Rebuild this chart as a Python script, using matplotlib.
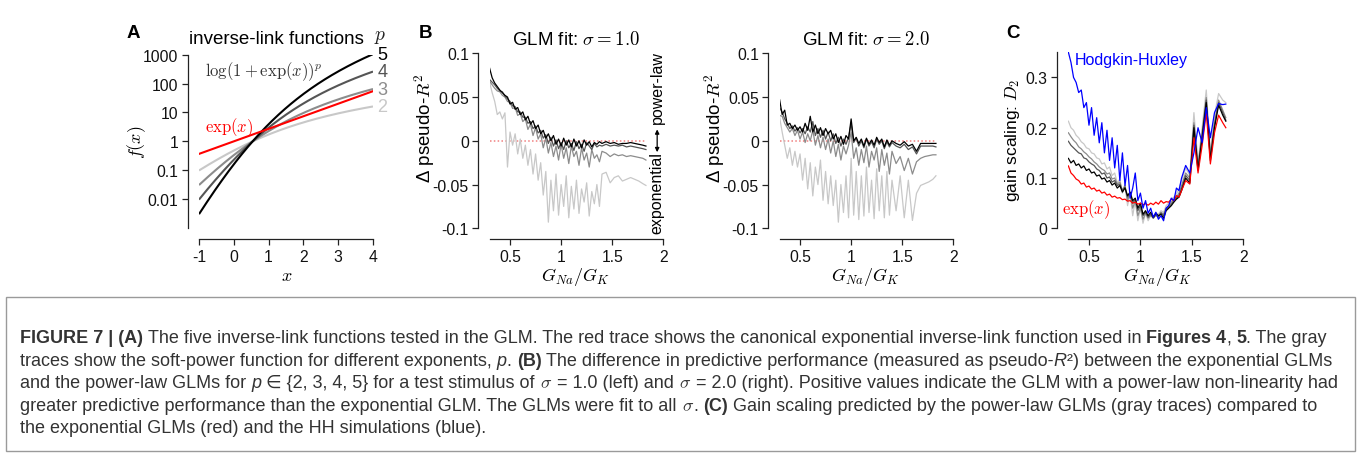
import numpy as np
import matplotlib
matplotlib.use("Agg")
import matplotlib.pyplot as plt
import matplotlib.patches as patches
from matplotlib import font_manager
from matplotlib.ticker import FixedLocator, NullLocator

W, H = 1360, 456

plt.rcParams['font.family'] = ['Liberation Sans', 'DejaVu Sans']
plt.rcParams['mathtext.fontset'] = 'cm'
plt.rcParams['axes.unicode_minus'] = False

# ---- panel A: inverse-link functions (as written on the panel) ----
link_x = np.linspace(-1, 4, 200)
powers = [2, 3, 4, 5]
power_colors = ['#c8c8c8', '#8c8c8c', '#555555', '#000000']
a_xticks = [-1, 0, 1, 2, 3, 4]
a_yticks = [0.01, 0.1, 1, 10, 100, 1000]
a_yticklabels = ['0.01', '0.1', '1', '10', '100', '1000']

gna = [0.300, 0.325, 0.350, 0.375, 0.400, 0.425, 0.450, 0.475, 0.500, 0.525,
       0.550, 0.575, 0.600, 0.625, 0.650, 0.675, 0.700, 0.725, 0.750, 0.775,
       0.800, 0.825, 0.850, 0.875, 0.900, 0.925, 0.950, 0.975, 1.000, 1.025,
       1.050, 1.075, 1.100, 1.125, 1.150, 1.175, 1.200, 1.225, 1.250, 1.275,
       1.300, 1.325, 1.350, 1.375, 1.400, 1.44, 1.48, 1.52, 1.56, 1.60,
       1.64, 1.68, 1.72, 1.76, 1.80, 1.83]

# B, sigma = 1.0
b1_p2 = [67, 55, 45, 30, 33, 25, 32, -30, 10, -5,
         8, -15, 2, -20, -5, -28, -10, -38, -15, -45,
         -25, -62, -35, -93, -45, -80, -38, -85, -50, -75,
         -40, -88, -52, -78, -45, -83, -55, -70, -48, -86,
         -58, -72, -50, -75, -38,
         -36, -48, -42, -40, -46, -44, -42, -44, -46, -49, -51]
b1_p3 = [68, 64, 60, 57, 56, 52, 50, 45, 44, 37,
         38, 29, 31, 22, 25, 13, 19, 6, 15, 2,
         8, -8, 3, -14, -2, -18, -6, -22, -4, -20,
         -8, -26, -6, -18, -12, -28, -8, -22, -14, -30,
         -10, -20, -16, -24, -12,
         -14, -18, -15, -17, -16, -18, -17, -18, -19, -20, -22]
b1_p4 = [70, 67, 64, 60, 57, 56, 51, 48, 45, 40,
         39, 33, 33, 27, 27, 20, 22, 14, 17, 9,
         12, 3, 7, -3, 4, -6, 1, -9, -2, -10,
         0, -8, -3, -11, -1, -9, -4, -12, -2, -6,
         -10, -3, -7, -5, -6,
         -4, -6, -5, -6, -5, -7, -6, -7, -8, -9, -10]
b1_p5 = [83, 72, 66, 62, 58, 55, 52, 50, 42, 44,
         36, 38, 30, 33, 24, 28, 19, 23, 14, 18,
         8, 12, 3, 8, 0, 6, -4, 2, -6, 3,
         -5, 1, -7, 2, -6, 0, -8, 1, -5, -1,
         -7, -2, -4, -1, -3,
         -1, -3, -2, -4, -3, -3, -2, -3, -4, -5, -6]

# B, sigma = 2.0
b2_p2 = [27, 10, -5, -20, -8, -28, -12, -30, -15, -45,
         -20, -55, -25, -63, -30, -50, -22, -68, -35, -72,
         -40, -74, -45, -93, -50, -82, -40, -88, -20, -85,
         -35, -90, -40, -86, -30, -82, -45, -89, -32, -80,
         -40, -88, -35, -85, -45,
         -80, -40, -88, -45, -91, -60, -51, -49, -47, -44, -40]
b2_p3 = [29, 28, 20, 15, 10, 14, 6, 12, 2, 10,
         -2, 8, 0, 12, -5, 6, -8, 4, -10, 2,
         -14, 0, -18, -4, -22, -6, -15, -5, 10, -20,
         -8, -28, -10, -25, -6, -30, -12, -22, -8, -35,
         -10, -28, -14, -38, -12,
         -26, -18, -34, -20, -38, -24, -20, -18, -17, -16, -16]
b2_p4 = [38, 33, 25, 20, 14, 17, 11, 15, 9, 14,
         8, 16, 10, 22, 6, 14, 4, 12, 2, 10,
         0, 8, -3, 4, -6, 2, -4, 4, 20, -2,
         3, -6, 0, -8, 2, -6, -1, -8, 2, -4,
         0, -9, -1, -7, -2,
         -6, -8, -4, -10, -7, -15, -6, -6, -6, -6, -7]
b2_p5 = [47, 30, 35, 18, 20, 14, 18, 12, 16, 10,
         20, 12, 28, 10, 18, 8, 15, 6, 14, 8,
         12, 2, 8, -2, 5, -4, 6, 2, 25, 0,
         4, -3, 2, -6, 3, -4, 1, -5, 4, -2,
         2, -7, 1, -5, 0,
         -3, -5, -1, -6, -4, -12, -3, -3, -3, -3, -3]

# C, gain scaling D2
c_p2 = [213, 200, 195, 185, 180, 172, 168, 160, 158, 150,
        148, 140, 138, 128, 130, 118, 122, 105, 110, 90,
        98, 70, 88, 45, 70, 25, 55, 15, 40, 10,
        30, 15, 25, 20, 30, 28, 35, 32, 45, 50,
        58, 62, 68, 78, 95,
        120, 105, 230, 130, 200, 275, 150, 225, 268, 255, 250]
c_p3 = [190, 182, 175, 170, 162, 158, 152, 148, 142, 138,
        132, 128, 122, 118, 115, 108, 110, 98, 100, 88,
        92, 75, 85, 55, 70, 40, 55, 25, 40, 18,
        30, 20, 25, 22, 28, 25, 32, 28, 40, 45,
        52, 58, 62, 70, 85,
        110, 100, 210, 125, 190, 260, 145, 210, 255, 235, 220]
c_p4 = [173, 165, 160, 155, 150, 148, 140, 138, 132, 128,
        125, 118, 115, 108, 110, 100, 102, 92, 95, 85,
        88, 75, 82, 62, 70, 50, 58, 35, 45, 25,
        32, 22, 28, 20, 26, 22, 30, 25, 38, 42,
        48, 55, 60, 65, 80,
        105, 95, 205, 120, 185, 255, 140, 205, 250, 230, 215]
c_p5 = [139, 130, 135, 125, 128, 120, 124, 115, 118, 110,
        112, 104, 106, 98, 100, 92, 95, 86, 90, 80,
        85, 72, 80, 65, 72, 55, 60, 40, 50, 28,
        35, 25, 32, 22, 30, 25, 28, 20, 35, 40,
        45, 52, 58, 62, 75,
        100, 90, 200, 115, 180, 250, 135, 200, 245, 225, 213]
c_exp = [124, 110, 105, 98, 95, 88, 90, 82, 84, 78,
         80, 74, 76, 70, 72, 66, 68, 62, 64, 60,
         61, 57, 58, 54, 55, 50, 52, 48, 50, 47,
         49, 46, 50, 47, 52, 48, 55, 50, 53, 52,
         58, 55, 65, 62, 75,
         95, 88, 180, 110, 165, 230, 128, 190, 225, 210, 200]
c_hh = [350, 330, 300, 290, 270, 275, 240, 250, 205, 240,
        185, 220, 170, 210, 150, 195, 135, 180, 120, 165,
        95, 150, 85, 125, 60, 80, 110, 55, 70, 40,
        55, 30, 40, 22, 32, 18, 25, 15, 40, 45,
        60, 55, 80, 75, 100,
        125, 110, 150, 200, 170, 240, 180, 230, 248, 246, 247]

b_yticks = [-0.1, -0.05, 0, 0.05, 0.1]
b_yticklabels = ['-0.1', '-0.05', '0', '0.05', '0.1']
g_xticks = [0.5, 1, 1.5, 2]
g_xticklabels = ['0.5', '1', '1.5', '2']
c_yticks = [0, 0.1, 0.2, 0.3]
c_yticklabels = ['0', '0.1', '0.2', '0.3']

INK = '#222222'


def box(left, top, right, bottom):
    return [left / W, 1 - bottom / H, (right - left) / W, (bottom - top) / H]


def style(ax):
    for s in ['top', 'right']:
        ax.spines[s].set_visible(False)
    for s in ['left', 'bottom']:
        ax.spines[s].set_position(('outward', 8))
        ax.spines[s].set_color(INK)
        ax.spines[s].set_linewidth(0.9)
    ax.tick_params(direction='out', length=4, width=0.9, color=INK,
                   labelsize=11.3, labelcolor='#111111', pad=3)
    ax.patch.set_visible(False)


def ftext(px, py, s, **kw):
    return fig.text(px / W, 1 - py / H, s, **kw)


fig = plt.figure(figsize=(W / 100, H / 100), dpi=100)

# ---------------- panel A ----------------
axA = fig.add_axes(box(199, 55.7, 373, 229))
style(axA)
for p, col in zip(powers, power_colors):
    fx = np.log1p(np.exp(link_x)) ** p
    axA.plot(link_x, fx, color=col, lw=1.5, solid_capstyle='butt')
    axA.annotate(str(p), xy=(link_x[-1], fx[-1]), xytext=(3, 0),
                 textcoords='offset points', va='center', ha='left',
                 fontsize=13, color=col, annotation_clip=False)
axA.plot(link_x, np.exp(link_x), color='#ff0000', lw=1.5)
axA.set_yscale('log')
axA.set_xlim(-1, 4)
axA.set_ylim(1e-3, 1e3)
axA.xaxis.set_major_locator(FixedLocator(a_xticks))
axA.set_xticklabels([str(t) for t in a_xticks])
axA.yaxis.set_major_locator(FixedLocator(a_yticks))
axA.yaxis.set_minor_locator(NullLocator())
axA.set_yticklabels(a_yticklabels)

ftext(133, 33, 'A', fontsize=13.5, fontweight='bold', ha='center', va='center')
ftext(276, 39, 'inverse-link functions', fontsize=13.5, ha='center', va='center')
ftext(380, 37, '$p$', fontsize=14, ha='center', va='center', color=INK)
ftext(205, 72, r'$\log(1+\exp(x))^p$', fontsize=12, ha='left', va='center', color='#333333')
ftext(205, 128, r'$\exp(x)$', fontsize=12, ha='left', va='center', color='#ff0000')
ftext(137, 142, r'$f(x)$', fontsize=13, rotation=90, ha='center', va='center')
ftext(287, 277, r'$x$', fontsize=13, ha='center', va='center')

# ---------------- panel B ----------------
b_sets = [([b1_p2, b1_p3, b1_p4, b1_p5], 489.6, r'GLM fit: $\sigma = 1.0$'),
          ([b2_p2, b2_p3, b2_p4, b2_p5], 779.6, r'GLM fit: $\sigma = 2.0$')]
b_axes = []
for series, left, title in b_sets:
    ax = fig.add_axes(box(left, 54.3, left + 173.7, 229.3))
    style(ax)
    ax.hlines(0, gna[0], gna[-1], colors='#f08080', linestyles=(0, (1, 1.5)), lw=1.1)
    for vals, col in zip(series, power_colors):
        ax.plot(gna, np.array(vals) / 1000, color=col, lw=0.9)
    ax.set_xlim(0.3, 2)
    ax.set_ylim(-0.1, 0.1)
    ax.xaxis.set_major_locator(FixedLocator(g_xticks))
    ax.set_xticklabels(g_xticklabels)
    ax.yaxis.set_major_locator(FixedLocator(b_yticks))
    ax.set_yticklabels(b_yticklabels)
    cx = left + 86
    ftext(cx, 40, title, fontsize=13.5, ha='center', va='center')
    ftext(cx, 277, r'$G_{Na}/G_K$', fontsize=13, ha='center', va='center')
    ftext(left - 65, 128, u'\u0394 pseudo-$R^2$', fontsize=13.5, rotation=90,
          ha='center', va='center')
    b_axes.append(ax)

ftext(425, 33, 'B', fontsize=13.5, fontweight='bold', ha='center', va='center')
axB = b_axes[0]
axB.text(1.94, 0.062, 'power-law', rotation=90, fontsize=11.5, ha='center', va='center', clip_on=False)
axB.text(1.94, -0.059, 'exponential', rotation=90, fontsize=11.5, ha='center', va='center', clip_on=False)
axB.annotate('', xy=(1.94, -0.013), xytext=(1.94, 0.013),
             arrowprops=dict(arrowstyle='<|-|>', color='k', lw=0.9, mutation_scale=6,
                             shrinkA=0, shrinkB=0), annotation_clip=False)

# ---------------- panel C ----------------
axC = fig.add_axes(box(1068.4, 53.3, 1243.3, 229.3))
style(axC)
for vals, col in zip([c_p2, c_p3, c_p4, c_p5], power_colors):
    axC.plot(gna, np.array(vals) / 1000, color=col, lw=0.9)
axC.plot(gna, np.array(c_exp) / 1000, color='#ff0000', lw=0.9)
axC.plot(gna, np.array(c_hh) / 1000, color='#0000ff', lw=0.9)
axC.set_xlim(0.3, 2)
axC.set_ylim(0, 0.35)
axC.xaxis.set_major_locator(FixedLocator(g_xticks))
axC.set_xticklabels(g_xticklabels)
axC.yaxis.set_major_locator(FixedLocator(c_yticks))
axC.set_yticklabels(c_yticklabels)

ftext(1013, 33, 'C', fontsize=13.5, fontweight='bold', ha='center', va='center')
ftext(1075, 60, 'Hodgkin-Huxley', fontsize=11.5, color='#0000ff', ha='left', va='center')
ftext(1062, 210, r'$\exp(x)$', fontsize=12, color='#ff0000', ha='left', va='center')
ftext(1013, 140, 'gain scaling: $D_2$', fontsize=12.5, rotation=90, ha='center', va='center')
ftext(1157, 277, r'$G_{Na}/G_K$', fontsize=13, ha='center', va='center')

# ---------------- caption ----------------
names = {f.name for f in font_manager.fontManager.ttflist}
cap_font = 'Liberation Sans Narrow' if 'Liberation Sans Narrow' in names else 'Liberation Sans'
cap_family = [cap_font, 'DejaVu Sans']
cap_color = '#333333'

fig.add_artist(patches.Rectangle((6 / W, 1 - 452 / H), (1355 - 6) / W, (452 - 298) / H,
                                 transform=fig.transFigure, fill=False,
                                 edgecolor='#9a9a9a', lw=1.0))

cap_lines = [
    [('FIGURE 7 | (A)', 'B'),
     (' The five inverse-link functions tested in the GLM. The red trace shows the canonical '
      'exponential inverse-link function used in ', 'N'),
     ('Figures 4', 'B'), (', ', 'N'), ('5', 'B'), ('. The gray', 'N')],
    [('traces show the soft-power function for different exponents, ', 'N'), ('p', 'I'),
     ('. ', 'N'), ('(B)', 'B'),
     (' The difference in predictive performance (measured as pseudo-', 'N'), ('R', 'I'),
     ('\u00b2', 'N'), (') between the exponential GLMs', 'N')],
    [('and the power-law GLMs for ', 'N'), ('p', 'I'), (' \u2208 {2, 3, 4, 5} for a test stimulus of ', 'N'),
     (r'$\sigma$', 'N'), (' = 1.0 (left) and ', 'N'), (r'$\sigma$', 'N'),
     (' = 2.0 (right). Positive values indicate the GLM with a power-law non-linearity had', 'N')],
    [('greater predictive performance than the exponential GLM. The GLMs were fit to all ', 'N'),
     (r'$\sigma$', 'N'), ('. ', 'N'), ('(C)', 'B'),
     (' Gain scaling predicted by the power-law GLMs (gray traces) compared to', 'N')],
    [('the exponential GLMs (red) and the HH simulations (blue).', 'N')],
]
cap_baselines = [343.5, 366, 388.5, 411, 433.5]

renderer = fig.canvas.get_renderer()


def put_runs(runs, x0, base, size):
    prop = font_manager.FontProperties(family=cap_family, size=size)
    w1 = renderer.get_text_width_height_descent('a a', prop, ismath=False)[0]
    w0 = renderer.get_text_width_height_descent('aa', prop, ismath=False)[0]
    sw = w1 - w0
    x = x0
    made = []
    for txt, kind in runs:
        lead = len(txt) - len(txt.lstrip(' '))
        trail = len(txt) - len(txt.rstrip(' '))
        x += lead * sw
        t = ftext(x, base, txt.strip(' '), fontsize=size, family=cap_family, color=cap_color,
                  ha='left', va='baseline',
                  fontweight='bold' if kind == 'B' else 'normal',
                  fontstyle='italic' if kind == 'I' else 'normal')
        x = t.get_window_extent(renderer).x1 + trail * sw
        made.append(t)
    return x, made


end, trial = put_runs(cap_lines[0], 20, cap_baselines[0], 10)
for t in trial:
    t.remove()
cap_size = 10 * (1329 - 20) / (end - 20)
for runs, base in zip(cap_lines, cap_baselines):
    put_runs(runs, 20, base, cap_size)

fig.savefig('out.png', dpi=100)
